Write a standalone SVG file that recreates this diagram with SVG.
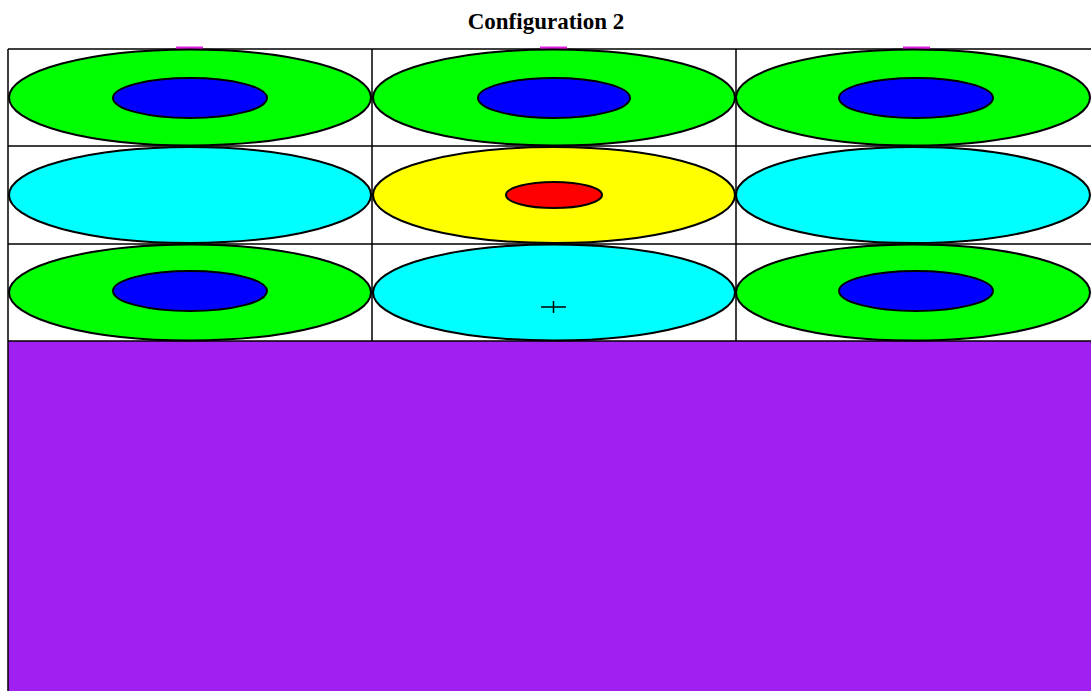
<svg xmlns="http://www.w3.org/2000/svg" width="1091" height="691" viewBox="0 0 1091 691">
<style>
.o{stroke:#000;stroke-width:2}
.g{fill:#00ff00}.b{fill:#0000ff}.c{fill:#00ffff}.y{fill:#ffff00}.r{fill:#ff0000}
.grid{stroke:#000;stroke-width:1.5;fill:none}
.tick{stroke:#e020e0;stroke-width:3}
</style>
<rect width="1091" height="691" fill="#fff"/>
<text x="546" y="29" text-anchor="middle" font-family="Liberation Serif, serif" font-weight="bold" font-size="23">Configuration 2</text>
<rect id="floor" x="8" y="341" width="1083" height="350" fill="#a020f0"/>
<g id="connectors" class="grid">
<path d="M8 49H1091M8 146H1091M8 244H1091M8 341H1091M8 49V691M372 49V341M736 49V341"/>
</g>
<path class="tick" d="M176 48H203M540 48H567M903 48H930"/>
<g id="cell-1-1"><ellipse class="o g" cx="190" cy="97.5" rx="181" ry="48"/><ellipse class="o b" cx="190" cy="98" rx="77" ry="20"/></g>
<g id="cell-1-2"><ellipse class="o g" cx="554" cy="97.5" rx="181" ry="48"/><ellipse class="o b" cx="554" cy="98" rx="76" ry="20"/></g>
<g id="cell-1-3"><ellipse class="o g" cx="913" cy="97.5" rx="177" ry="48"/><ellipse class="o b" cx="916" cy="98" rx="77" ry="20"/></g>
<g id="cell-2-1"><ellipse class="o c" cx="190" cy="195" rx="181" ry="48"/></g>
<g id="cell-2-2"><ellipse class="o y" cx="554" cy="195" rx="181" ry="48"/><ellipse class="o r" cx="554" cy="195" rx="48" ry="13"/></g>
<g id="cell-2-3"><ellipse class="o c" cx="913" cy="195" rx="177" ry="48"/></g>
<g id="cell-3-1"><ellipse class="o g" cx="190" cy="292.5" rx="181" ry="48"/><ellipse class="o b" cx="190" cy="291" rx="77" ry="20"/></g>
<g id="cell-3-2"><ellipse class="o c" cx="554" cy="292.5" rx="181" ry="48"/><path d="M541 307H566M553.5 301V313" stroke="#000" stroke-width="1.5"/></g>
<g id="cell-3-3"><ellipse class="o g" cx="913" cy="292.5" rx="177" ry="48"/><ellipse class="o b" cx="916" cy="291" rx="77" ry="20"/></g>
</svg>
